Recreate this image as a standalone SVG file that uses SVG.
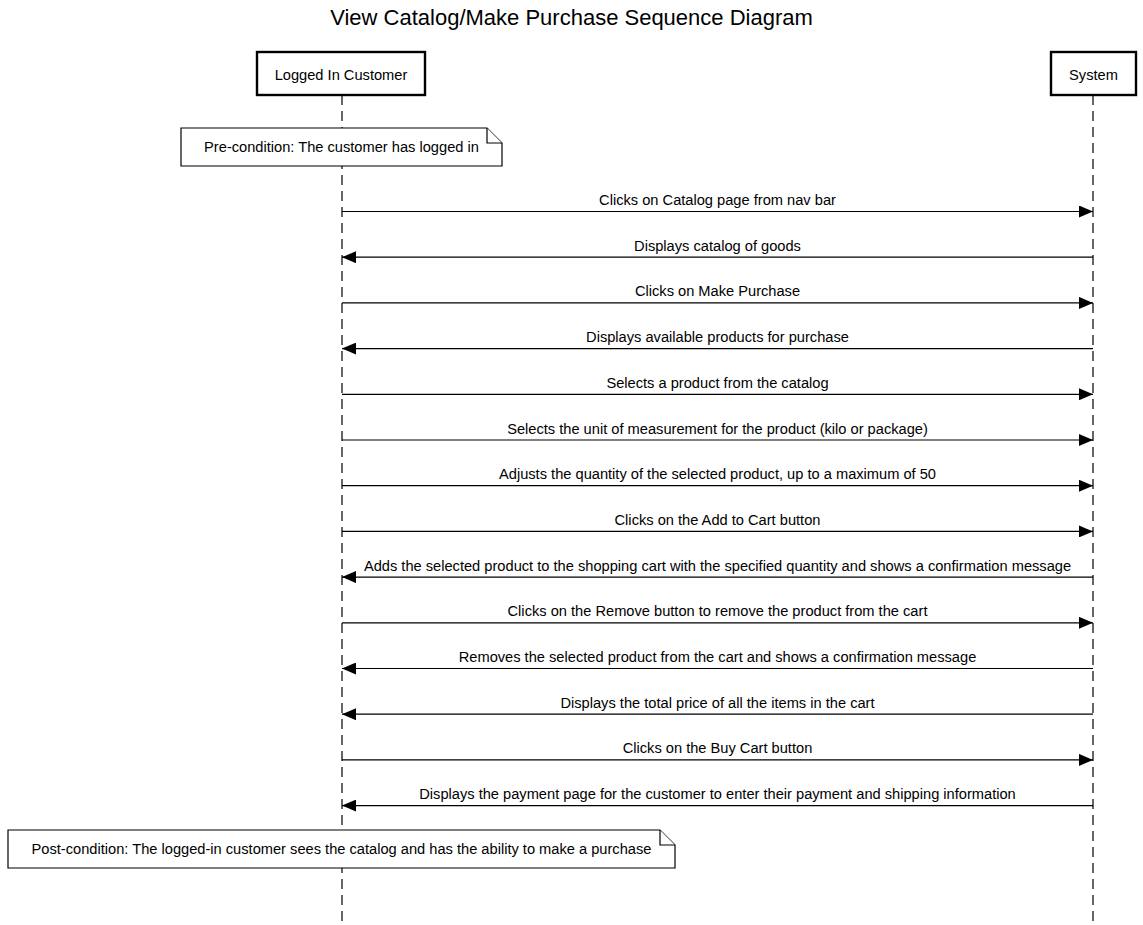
<svg xmlns="http://www.w3.org/2000/svg" width="1143" height="925" viewBox="0 0 1143 925">
<style>
text{font-family:"Liberation Sans",Arial,Helvetica,sans-serif;fill:#000}
.t{font-size:22px}
.l{font-size:14.65px;text-anchor:middle}
.box{fill:#fff;stroke:#000;stroke-width:2.4}
.life{stroke:#000;stroke-width:1.2;stroke-dasharray:10 6;fill:none}
.msg{stroke:#000;stroke-width:1.2;fill:none}
.note{fill:#fff;stroke:#000;stroke-width:1.2}
</style>
<defs>
<marker id="ah" viewBox="0 0 14 12" refX="14" refY="6" markerWidth="14" markerHeight="12" markerUnits="userSpaceOnUse" orient="auto">
<path d="M0,0 L14,6 L0,12 Z" fill="#000"/>
</marker>
</defs>
<rect width="1143" height="925" fill="#fff"/>
<text class="t" x="571.5" y="25" text-anchor="middle">View Catalog/Make Purchase Sequence Diagram</text>
<g id="lifelines">
<line class="life" x1="342" y1="95" x2="342" y2="925"/>
<line class="life" x1="1093" y1="95" x2="1093" y2="925"/>
</g>
<g id="customer">
<rect class="box" x="257" y="52" width="168" height="43"/>
<text class="l" x="341" y="79.5">Logged In Customer</text>
</g>
<g id="system">
<rect class="box" x="1051" y="52" width="85" height="43"/>
<text class="l" x="1093.5" y="79.5">System</text>
</g>
<g id="pre-condition">
<path class="note" d="M181,128 H487 L502,143 V166 H181 Z"/>
<path class="note" d="M487,128 V143 H502" fill="none"/>
<text class="l" x="341.5" y="152">Pre-condition: The customer has logged in</text>
</g>
<g id="connectors">
<line class="msg" x1="342" y1="211.5" x2="1093" y2="211.5" marker-end="url(#ah)"/>
<text class="l" x="717.5" y="205">Clicks on Catalog page from nav bar</text>
<line class="msg" x1="1093" y1="257.2" x2="342" y2="257.2" marker-end="url(#ah)"/>
<text class="l" x="717.5" y="250.7">Displays catalog of goods</text>
<line class="msg" x1="342" y1="302.9" x2="1093" y2="302.9" marker-end="url(#ah)"/>
<text class="l" x="717.5" y="296.4">Clicks on Make Purchase</text>
<line class="msg" x1="1093" y1="348.6" x2="342" y2="348.6" marker-end="url(#ah)"/>
<text class="l" x="717.5" y="342.1">Displays available products for purchase</text>
<line class="msg" x1="342" y1="394.3" x2="1093" y2="394.3" marker-end="url(#ah)"/>
<text class="l" x="717.5" y="387.8">Selects a product from the catalog</text>
<line class="msg" x1="342" y1="440" x2="1093" y2="440" marker-end="url(#ah)"/>
<text class="l" x="717.5" y="433.5">Selects the unit of measurement for the product (kilo or package)</text>
<line class="msg" x1="342" y1="485.7" x2="1093" y2="485.7" marker-end="url(#ah)"/>
<text class="l" x="717.5" y="479.2">Adjusts the quantity of the selected product, up to a maximum of 50</text>
<line class="msg" x1="342" y1="531.4" x2="1093" y2="531.4" marker-end="url(#ah)"/>
<text class="l" x="717.5" y="524.9">Clicks on the Add to Cart button</text>
<line class="msg" x1="1093" y1="577.1" x2="342" y2="577.1" marker-end="url(#ah)"/>
<text class="l" x="717.5" y="570.6">Adds the selected product to the shopping cart with the specified quantity and shows a confirmation message</text>
<line class="msg" x1="342" y1="622.8" x2="1093" y2="622.8" marker-end="url(#ah)"/>
<text class="l" x="717.5" y="616.3">Clicks on the Remove button to remove the product from the cart</text>
<line class="msg" x1="1093" y1="668.5" x2="342" y2="668.5" marker-end="url(#ah)"/>
<text class="l" x="717.5" y="662">Removes the selected product from the cart and shows a confirmation message</text>
<line class="msg" x1="1093" y1="714.2" x2="342" y2="714.2" marker-end="url(#ah)"/>
<text class="l" x="717.5" y="707.7">Displays the total price of all the items in the cart</text>
<line class="msg" x1="342" y1="759.9" x2="1093" y2="759.9" marker-end="url(#ah)"/>
<text class="l" x="717.5" y="753.4">Clicks on the Buy Cart button</text>
<line class="msg" x1="1093" y1="805.6" x2="342" y2="805.6" marker-end="url(#ah)"/>
<text class="l" x="717.5" y="799.1">Displays the payment page for the customer to enter their payment and shipping information</text>
</g>
<g id="post-condition">
<path class="note" d="M8,830 H660 L675,845 V868 H8 Z"/>
<path class="note" d="M660,830 V845 H675" fill="none"/>
<text class="l" x="341.5" y="854">Post-condition: The logged-in customer sees the catalog and has the ability to make a purchase</text>
</g>
</svg>
